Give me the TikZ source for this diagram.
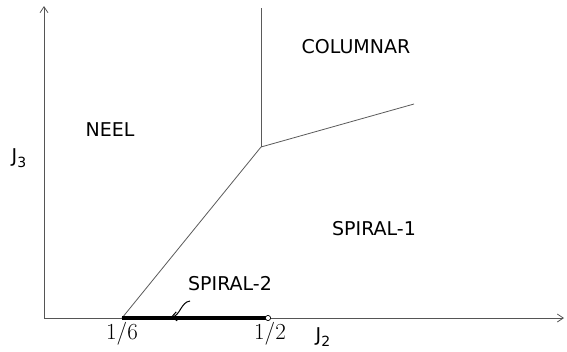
\documentclass[tikz,border=0pt]{standalone}
\usepackage{fontspec}
\usepackage{tikz}
\usetikzlibrary{arrows.meta, positioning}
\newfontfamily\labelfont{DejaVu Sans}
\definecolor{axisgray}{RGB}{85,85,85}
\definecolor{linegray}{RGB}{90,90,90}
\newcommand{\subidx}[1]{\raisebox{-0.45ex}{\fontsize{14}{15}\selectfont #1}}
\tikzset{
  axis/.style     = {draw=axisgray, line width=0.8pt, -{Straight Barb[length=6pt, width=8pt]}},
  boundary/.style = {draw=linegray, line width=0.8pt},
  spiraltwo/.style = {draw=black, line width=3.4pt},
  phase/.style    = {font=\labelfont\fontsize{19}{21}\selectfont, inner sep=0pt},
  tick/.style     = {font=\fontsize{23}{25}\selectfont, inner sep=0pt},
  pointer/.style  = {draw=black, line width=1pt, -{Straight Barb[length=5pt, width=9pt]}},
}

\begin{document}
\begin{tikzpicture}[x=1pt, y=-1pt]
  \useasboundingbox (0,0) rectangle (567,351);

  \coordinate (o)    at (44,318);
  \coordinate (ytop) at (44,6);
  \coordinate (xend) at (564,318);
  \coordinate (p16)  at (122,318);
  \coordinate (p12)  at (268,318);
  \coordinate (tp)   at (261,147);
  \coordinate (vtop) at (261,8);
  \coordinate (rend) at (414,104);
  \coordinate (lead) at (190,301);
  \coordinate (tipp) at (171,317);

  % axes
  \draw[axis] (o) -- (ytop);
  \draw[axis] (o) -- (xend);

  % phase boundaries
  \draw[boundary] (p16) -- (tp);
  \draw[boundary] (tp) -- (vtop);
  \draw[boundary] (tp) -- (rend);

  % spiral-2 segment
  \draw[spiraltwo] (p16) -- (p12);
  \draw[black, line width=0.7pt, fill=white] (p12) circle (2.6pt);
  \draw[pointer] (lead) .. controls (181,302) and (180,316) .. (tipp);

  % labels
  \node[phase] (columnar) at (356,47)  {COLUMNAR};
  \node[phase] (neel)     at (110,130) {NEEL};
  \node[phase] (spone)    at (374,229) {SPIRAL-1};
  \node[phase] (sptwo)    at (230,284) {SPIRAL-2};
  \node[phase] (jthree)   at (19,158)  {J\subidx{3}};
  \node[phase] (jtwo)     at (323,337) {J\subidx{2}};
  \node[tick]  (lsixth)   at (122,334) {1/6};
  \node[tick]  (lhalf)    at (270,334) {1/2};
\end{tikzpicture}
\end{document}
